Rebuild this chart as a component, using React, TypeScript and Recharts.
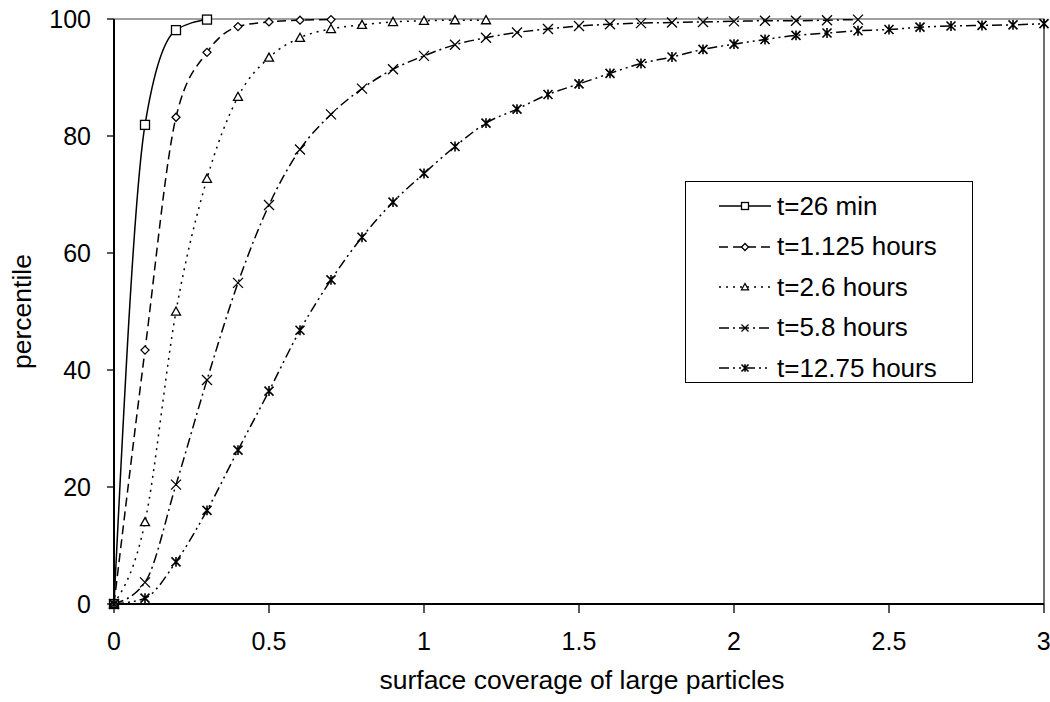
import { Label, Legend, Line, LineChart, ReferenceLine, XAxis, YAxis } from "recharts";

// surface coverage sampled every 0.1
const coverage = [
  0, 0.1, 0.2, 0.3, 0.4, 0.5, 0.6, 0.7, 0.8, 0.9, 1.0, 1.1, 1.2, 1.3, 1.4, 1.5,
  1.6, 1.7, 1.8, 1.9, 2.0, 2.1, 2.2, 2.3, 2.4, 2.5, 2.6, 2.7, 2.8, 2.9, 3.0,
];
const xTicks = [0, 0.5, 1, 1.5, 2, 2.5, 3];
const yTicks = [0, 20, 40, 60, 80, 100];
const labels = ["t=26 min", "t=1.125 hours", "t=2.6 hours", "t=5.8 hours", "t=12.75 hours"];

const t26min = [0, 81.9, 98.1, 99.9];
const t1125h = [0, 43.4, 83.2, 94.3, 98.7, 99.5, 99.8, 99.9];
const t26h = [0, 14.0, 50.0, 72.7, 86.7, 93.4, 96.8, 98.3, 99.0, 99.5, 99.7, 99.8, 99.8];
const t58h = [
  0, 3.7, 20.4, 38.3, 54.9, 68.2, 77.7, 83.7, 88.1, 91.4, 93.7, 95.6, 96.8, 97.7, 98.3,
  98.8, 99.1, 99.3, 99.4, 99.5, 99.6, 99.7, 99.7, 99.8, 99.9,
];
const t1275h = [
  0, 1.0, 7.2, 16.0, 26.3, 36.4, 46.8, 55.4, 62.7, 68.7, 73.6, 78.2, 82.2, 84.6, 87.1,
  88.9, 90.7, 92.4, 93.5, 94.8, 95.7, 96.5, 97.2, 97.6, 98.0, 98.2, 98.6, 98.8, 98.9, 99.0, 99.2,
];

type MarkKind = "square" | "diamond" | "triangle" | "cross" | "star";

const series: { name: string; values: number[]; dash?: string; mark: MarkKind }[] = [
  { name: labels[0], values: t26min, mark: "square" },
  { name: labels[1], values: t1125h, dash: "9 5", mark: "diamond" },
  { name: labels[2], values: t26h, dash: "2 5", mark: "triangle" },
  { name: labels[3], values: t58h, dash: "10 4 2 4", mark: "cross" },
  { name: labels[4], values: t1275h, dash: "10 4 2 4 2 4", mark: "star" },
];

const font = "'Liberation Sans', Arial, sans-serif";

function Mark({ kind, cx, cy, size }: { kind: MarkKind; cx: number; cy: number; size: number }) {
  const r = size / 2;
  const common = { fill: "#fff", stroke: "#000", strokeWidth: 1.3, strokeDasharray: "none" };
  if (kind === "square") return <rect x={cx - r} y={cy - r} width={size} height={size} {...common} />;
  if (kind === "diamond")
    return <path d={`M${cx} ${cy - r}L${cx + r} ${cy}L${cx} ${cy + r}L${cx - r} ${cy}Z`} {...common} />;
  if (kind === "triangle")
    return <path d={`M${cx} ${cy - r}L${cx + r} ${cy + r * 0.8}L${cx - r} ${cy + r * 0.8}Z`} {...common} />;
  const x = `M${cx - r} ${cy - r}L${cx + r} ${cy + r}M${cx + r} ${cy - r}L${cx - r} ${cy + r}`;
  if (kind === "cross") return <path d={x} {...common} fill="none" />;
  return <path d={`${x}M${cx} ${cy - r * 1.1}L${cx} ${cy + r * 1.1}`} {...common} fill="none" strokeWidth={1.6} />;
}

const markSize: Record<MarkKind, number> = { square: 9, diamond: 8, triangle: 9, cross: 10, star: 9 };

function LegendBox() {
  return (
    <div
      style={{
        border: "1px solid #000",
        background: "#fff",
        width: 286,
        height: 196,
        paddingTop: 4,
        boxSizing: "content-box",
        fontFamily: font,
        fontSize: 26,
        color: "#000",
      }}
    >
      {series.map((s) => (
        <div key={s.name} style={{ display: "flex", alignItems: "center", height: 40.5 }}>
          <svg width={52} height={20} style={{ marginLeft: 33, marginRight: 6 }}>
            <line x1={0} y1={10} x2={52} y2={10} stroke="#000" strokeWidth={1.5} strokeDasharray={s.dash} />
            <Mark kind={s.mark} cx={26} cy={10} size={7} />
          </svg>
          <span>{s.name}</span>
        </div>
      ))}
    </div>
  );
}

export default function App() {
  return (
    <div style={{ width: 1050, height: 702, background: "#fff" }}>
      <style>{"body{margin:0}"}</style>
      <LineChart width={1050} height={702} margin={{ top: 19, right: 6, bottom: 0, left: 0 }}>
        <XAxis
          type="number"
          dataKey="x"
          domain={[0, 3]}
          ticks={xTicks}
          height={98}
          axisLine={{ stroke: "#000", strokeWidth: 2 }}
          tickLine={{ stroke: "#000", strokeWidth: 1.3 }}
          tickSize={9}
          tickMargin={19}
          tick={{ fontSize: 25, fill: "#000", fontFamily: font }}
        >
          <Label
            content={({ viewBox }: any) => (
              <text
                x={viewBox.x + viewBox.width / 2 + 3}
                y={680}
                textAnchor="middle"
                dominantBaseline="central"
                fontSize={26.5}
                fontFamily={font}
                fill="#000"
              >
                surface coverage of large particles
              </text>
            )}
          />
        </XAxis>
        <YAxis
          type="number"
          domain={[0, 100]}
          ticks={yTicks}
          width={114}
          axisLine={{ stroke: "#000", strokeWidth: 2 }}
          tickLine={{ stroke: "#000", strokeWidth: 1.3 }}
          tickSize={7}
          tickMargin={16}
          tick={{ fontSize: 25, fill: "#000", fontFamily: font }}
        >
          <Label
            content={({ viewBox }: any) => {
              const cy = viewBox.y + viewBox.height / 2;
              return (
                <text
                  x={22}
                  y={cy}
                  transform={`rotate(-90 22 ${cy})`}
                  textAnchor="middle"
                  dominantBaseline="central"
                  fontSize={26.5}
                  fontFamily={font}
                  fill="#000"
                >
                  percentile
                </text>
              );
            }}
          />
        </YAxis>
        <ReferenceLine y={100} stroke="#808080" strokeWidth={1.5} />
        <ReferenceLine x={3} stroke="#404040" strokeWidth={1.5} />
        <Legend
          layout="vertical"
          align="center"
          verticalAlign="middle"
          content={() => <LegendBox />}
          wrapperStyle={{ left: 685, top: 181, right: "auto", bottom: "auto", width: "auto", height: "auto" }}
        />
        {series.map((s) => (
          <Line
            key={s.name}
            name={s.name}
            data={s.values.map((v, i) => ({ x: coverage[i], y: v }))}
            dataKey="y"
            type="monotone"
            stroke="#000"
            strokeWidth={1.5}
            strokeDasharray={s.dash}
            isAnimationActive={false}
            dot={(p: any) => (
              <Mark key={`${s.name}-${p.index}`} kind={s.mark} cx={p.cx} cy={p.cy} size={markSize[s.mark]} />
            )}
            activeDot={false}
          />
        ))}
      </LineChart>
    </div>
  );
}
